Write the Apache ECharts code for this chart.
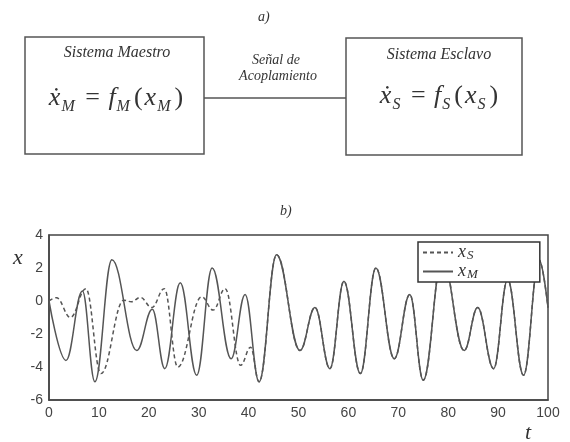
<!DOCTYPE html>
<html>
<head>
<meta charset="utf-8">
<script src="https://cdn.jsdelivr.net/npm/echarts@6/dist/echarts.min.js"></script>
<style>
html,body{margin:0;padding:0;background:#fff;}
#main{width:570px;height:442px;}
</style>
</head>
<body>
<div id="main"></div>
<script>
// ---- data ----
// master x_M (extrema, t -> value)
const tM = [0, 3.4, 6.7, 9.2, 12.6, 17.6, 20.7, 23.2, 26.3, 29.6, 32.7, 36.5, 39.3, 42.1, 45.6, 50.3, 53.3, 56.3, 59.1, 62.4, 65.5, 69.2, 72.3, 75.0, 78.8, 83.2, 85.9, 89.1, 91.9, 95.1, 98.2, 100];
const xM = [0, -3.6, 0.6, -4.9, 2.5, -3.0, -0.5, -4.1, 1.1, -4.5, 2.0, -3.5, 0.4, -4.9, 2.8, -3.0, -0.4, -4.1, 1.2, -4.4, 2.0, -3.5, 0.4, -4.8, 2.6, -3.0, -0.4, -4.1, 1.3, -4.5, 2.5, -0.4];
// slave x_S before synchronisation
const tSearly = [0, 1.5, 4.3, 7.4, 10.4, 15.0, 16.5, 18.3, 20.6, 23.1, 25.8, 30.6, 32.9, 35.3, 38.4, 40.4];
const xSearly = [0, 0.2, -1.0, 0.75, -4.4, 0.05, -0.05, 0.22, -0.4, 0.75, -4.0, 0.25, -0.55, 0.75, -3.9, -2.8];
const syncT = 42.1; // from here x_S coincides with x_M
const xTicks = {min: 0, max: 100, interval: 10};
const yTicks = {min: -6, max: 4, interval: 2};

const tS = tSearly.concat(tM.filter(t => t >= syncT));
const xS = xSearly.concat(xM.filter((v, i) => tM[i] >= syncT));
const pairs = (ts, vs) => ts.map((t, i) => [t, vs[i]]);

const serif = '"Liberation Serif", "DejaVu Serif", serif';
const sans = '"Liberation Sans", Arial, sans-serif';
const ink = '#333';

function eq(sub) {
  return {
    text: '{i|ẋ}{s|' + sub + '}{n| = }{i|f}{s|' + sub + '}{n|(}{i|x}{s|' + sub + '}{n|)}',
    rich: {
      i: {fontFamily: serif, fontStyle: 'italic', fontSize: 26, fill: ink, verticalAlign: 'top', lineHeight: 26},
      n: {fontFamily: serif, fontSize: 26, fill: ink, verticalAlign: 'top', lineHeight: 26, padding: [0, 2, 0, 2]},
      s: {fontFamily: serif, fontStyle: 'italic', fontSize: 16, fill: ink, verticalAlign: 'top', padding: [14, 2, 0, 1]}
    }
  };
}

const chart = echarts.init(document.getElementById('main'), null, {renderer: 'canvas'});
chart.setOption({
  animation: false,
  backgroundColor: '#fff',
  grid: {left: 49, top: 235, width: 499, height: 165, show: true, borderColor: '#444', borderWidth: 1.5, backgroundColor: 'transparent'},
  xAxis: {
    type: 'value', min: xTicks.min, max: xTicks.max, interval: xTicks.interval,
    axisLine: {show: true, onZero: false, lineStyle: {color: '#444', width: 1.5}},
    axisTick: {show: false}, splitLine: {show: false},
    axisLabel: {color: '#444', fontFamily: sans, fontSize: 14, margin: 6}
  },
  yAxis: {
    type: 'value', min: yTicks.min, max: yTicks.max, interval: yTicks.interval,
    axisLine: {show: true, onZero: false, lineStyle: {color: '#444', width: 1.5}},
    axisTick: {show: false}, splitLine: {show: false},
    axisLabel: {color: '#444', fontFamily: sans, fontSize: 14, margin: 6}
  },
  legend: {
    orient: 'vertical', left: 418, top: 242,
    padding: [1, 62, 1, 4], itemGap: 0, itemWidth: 30, itemHeight: 14,
    borderColor: '#333', borderWidth: 1.5, backgroundColor: '#fff',
    itemStyle: {opacity: 0},
    data: ['xS', 'xM'],
    formatter: n => '{v|x}{s|' + n.charAt(1) + '}',
    textStyle: {
      rich: {
        v: {fontFamily: serif, fontStyle: 'italic', fontSize: 18, color: ink, verticalAlign: 'top', lineHeight: 15},
        s: {fontFamily: serif, fontStyle: 'italic', fontSize: 13, color: ink, verticalAlign: 'top', padding: [6, 0, 0, 1]}
      }
    }
  },
  series: [
    {
      name: 'xM', type: 'line', data: pairs(tM, xM), symbol: 'none',
      smooth: 0.4, smoothMonotone: 'x',
      itemStyle: {color: '#555'},
      lineStyle: {color: '#555', width: 1.5, type: 'solid'}, z: 2
    },
    {
      name: 'xS', type: 'line', data: pairs(tS, xS), symbol: 'none',
      smooth: 0.4, smoothMonotone: 'x',
      itemStyle: {color: '#555'},
      lineStyle: {color: '#555', width: 1.5, type: [4, 3]}, z: 3
    }
  ],
  graphic: [
    {type: 'text', left: 258, top: 10, style: {text: 'a)', font: 'italic 14px ' + serif, fill: ink}},
    {type: 'rect', shape: {x: 25, y: 37, width: 179, height: 117}, style: {fill: 'none', stroke: '#555', lineWidth: 1.5}},
    {type: 'rect', shape: {x: 346, y: 38, width: 176, height: 117}, style: {fill: 'none', stroke: '#555', lineWidth: 1.5}},
    {type: 'line', shape: {x1: 204, y1: 98, x2: 346, y2: 98}, style: {stroke: '#555', lineWidth: 1.5}},
    {type: 'text', x: 117, y: 53, style: {text: 'Sistema Maestro', font: 'italic 16px ' + serif, fill: ink, align: 'center', verticalAlign: 'middle'}},
    {type: 'text', x: 439, y: 55, style: {text: 'Sistema Esclavo', font: 'italic 16px ' + serif, fill: ink, align: 'center', verticalAlign: 'middle'}},
    {type: 'text', x: 276, y: 60, style: {text: 'Señal de', font: 'italic 14px ' + serif, fill: ink, align: 'center', verticalAlign: 'middle'}},
    {type: 'text', x: 278, y: 76, style: {text: 'Acoplamiento', font: 'italic 14px ' + serif, fill: ink, align: 'center', verticalAlign: 'middle'}},
    {type: 'text', x: 117, y: 100, style: Object.assign(eq('M'), {align: 'center', verticalAlign: 'middle'})},
    {type: 'text', x: 440, y: 98, style: Object.assign(eq('S'), {align: 'center', verticalAlign: 'middle'})},
    {type: 'text', left: 280, top: 204, style: {text: 'b)', font: 'italic 14px ' + serif, fill: ink}},
    {type: 'text', x: 18, y: 258, style: {text: 'x', font: 'italic 22px ' + serif, fill: ink, align: 'center', verticalAlign: 'middle'}},
    {type: 'text', x: 528, y: 433, style: {text: 't', font: 'italic 22px ' + serif, fill: ink, align: 'center', verticalAlign: 'middle'}}
  ]
});
</script>
</body>
</html>
